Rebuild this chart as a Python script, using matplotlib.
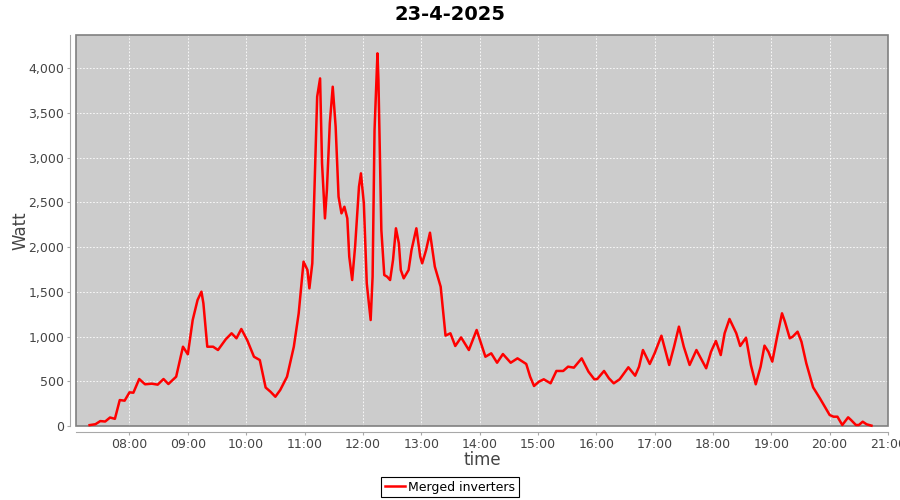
import pandas as pd
import matplotlib
matplotlib.use('Agg')
import matplotlib.pyplot as plt
import matplotlib.dates as mdates
from matplotlib.patches import Rectangle
from matplotlib.ticker import FuncFormatter, MultipleLocator

# data (time of day, watt)
times = [
    '07:19', '07:25', '07:30', '07:35', '07:40', '07:45', '07:50', '07:55', '08:00', '08:04',
    '08:10', '08:16', '08:23', '08:29', '08:35', '08:40', '08:48', '08:55', '09:00', '09:05',
    '09:10', '09:14', '09:16', '09:20', '09:26', '09:31', '09:39', '09:45', '09:50', '09:55',
    '10:01', '10:08', '10:14', '10:20', '10:25', '10:30', '10:35', '10:42', '10:49', '10:54',
    '10:59', '11:03', '11:05', '11:08', '11:11', '11:13', '11:16', '11:18', '11:21', '11:23',
    '11:26', '11:29', '11:32', '11:35', '11:38', '11:41', '11:44', '11:46', '11:49', '11:52',
    '11:56', '11:58', '12:01', '12:04', '12:08', '12:10', '12:12', '12:15', '12:16', '12:19',
    '12:22', '12:25', '12:28', '12:31', '12:34', '12:37', '12:39', '12:42', '12:47', '12:50',
    '12:55', '12:59', '13:01', '13:05', '13:09', '13:14', '13:20', '13:25', '13:30', '13:35',
    '13:41', '13:49', '13:57', '14:06', '14:12', '14:18', '14:24', '14:32', '14:39', '14:48',
    '14:52', '14:56', '15:01', '15:06', '15:13', '15:19', '15:26', '15:31', '15:37', '15:45',
    '15:52', '15:58', '16:01', '16:08', '16:13', '16:18', '16:24', '16:26', '16:33', '16:40',
    '16:44', '16:48', '16:55', '17:00', '17:07', '17:15', '17:20', '17:25', '17:30', '17:36',
    '17:43', '17:53', '17:58', '18:03', '18:08', '18:12', '18:17', '18:24', '18:28', '18:34',
    '18:39', '18:44', '18:49', '18:53', '18:57', '19:01', '19:06', '19:11', '19:14', '19:19',
    '19:22', '19:27', '19:31', '19:36', '19:43', '19:50', '19:56', '20:00', '20:04', '20:08',
    '20:13', '20:19', '20:22', '20:27', '20:30', '20:34', '20:38', '20:43',
]
watt = [
    10, 20, 55, 50, 95, 80, 290, 283, 376, 372,
    525, 466, 473, 462, 525, 469, 551, 886, 801, 1184,
    1408, 1501, 1371, 886, 886, 849, 969, 1036, 980, 1084,
    961, 774, 737, 430, 383, 327, 402, 551, 886, 1259,
    1836, 1743, 1538, 1818, 2935, 3679, 3884, 2935, 2320, 2637,
    3382, 3791, 3344, 2562, 2376, 2450, 2320, 1892, 1631, 2003,
    2674, 2823, 2488, 1594, 1184, 1668, 3307, 4164, 3866, 2190,
    1687, 1668, 1631, 1855, 2209, 2041, 1743, 1650, 1743, 1966,
    2209, 1892, 1818, 1966, 2160, 1780, 1556, 1010, 1036, 894,
    990, 849, 1073, 774, 812, 707, 804, 707, 756, 693,
    551, 447, 495, 522, 477, 615, 615, 663, 652, 756,
    607, 522, 525, 615, 533, 477, 522, 551, 656, 562,
    663, 849, 693, 812, 1009, 682, 886, 1110, 886, 682,
    849, 645, 830, 950, 793, 1036, 1196, 1036, 894, 987,
    682, 466, 663, 898, 830, 719, 998, 1259, 1166, 980,
    998, 1054, 942, 700, 432, 309, 198, 123, 104, 104,
    11, 97, 67, 11, 11, 48, 19, 4,
]
title = '23-4-2025'
series_name = 'Merged inverters'

x = pd.to_datetime(['2025-04-23 ' + t for t in times])

fig = plt.figure(figsize=(9, 5), dpi=100)
ax = fig.add_axes([76 / 900, 1 - 426 / 500, 812 / 900, 391 / 500])
ax.set_facecolor('#CCCCCC')

ax.plot(x, watt, color='#FF0000', lw=1.8, label=series_name, solid_joinstyle='round',
        zorder=6, clip_on=False)

ax.set_xlim(pd.Timestamp('2025-04-23 07:05'), pd.Timestamp('2025-04-23 21:00'))
ax.set_ylim(0, 4369)

ax.xaxis.set_major_locator(mdates.HourLocator())
ax.xaxis.set_major_formatter(mdates.DateFormatter('%H:%M'))
ax.yaxis.set_major_locator(MultipleLocator(500))
ax.yaxis.set_major_formatter(FuncFormatter(lambda v, p: f'{int(v):,}'))

ax.grid(True, color='white', ls=(0, (2, 2)), lw=0.6)
ax.set_axisbelow(True)

# axis lines offset from the plot area, as in the original
for side in ['top', 'right']:
    ax.spines[side].set_visible(False)
for side in ['left', 'bottom']:
    ax.spines[side].set_position(('outward', 4))
    ax.spines[side].set_color('#A8A8A8')
ax.add_patch(Rectangle((0, 0), 1, 1, transform=ax.transAxes, fill=False,
                       edgecolor='#808080', lw=1.2, clip_on=False, zorder=5))

ax.tick_params(colors='#A8A8A8', labelcolor='#444444', labelsize=9, length=2, pad=2.5)
ax.set_ylabel('Watt', fontsize=12, color='#444444', va='center')
ax.yaxis.set_label_coords(-56 / 812, 0.5)
ax.set_xlabel('time', fontsize=12, color='#444444', va='center')
ax.xaxis.set_label_coords(0.5, -34 / 391)

fig.text(0.5, 1 - 14 / 500, title, fontsize=14, fontweight='bold', ha='center', va='center')

leg = fig.legend(loc='center', bbox_to_anchor=(0.5, 0.026), fontsize=9,
                 frameon=True, fancybox=False, edgecolor='black', framealpha=1,
                 handlelength=1.6, borderpad=0.3, handletextpad=0.3)
leg.get_frame().set_linewidth(0.8)

fig.savefig('out.png', dpi=100)
